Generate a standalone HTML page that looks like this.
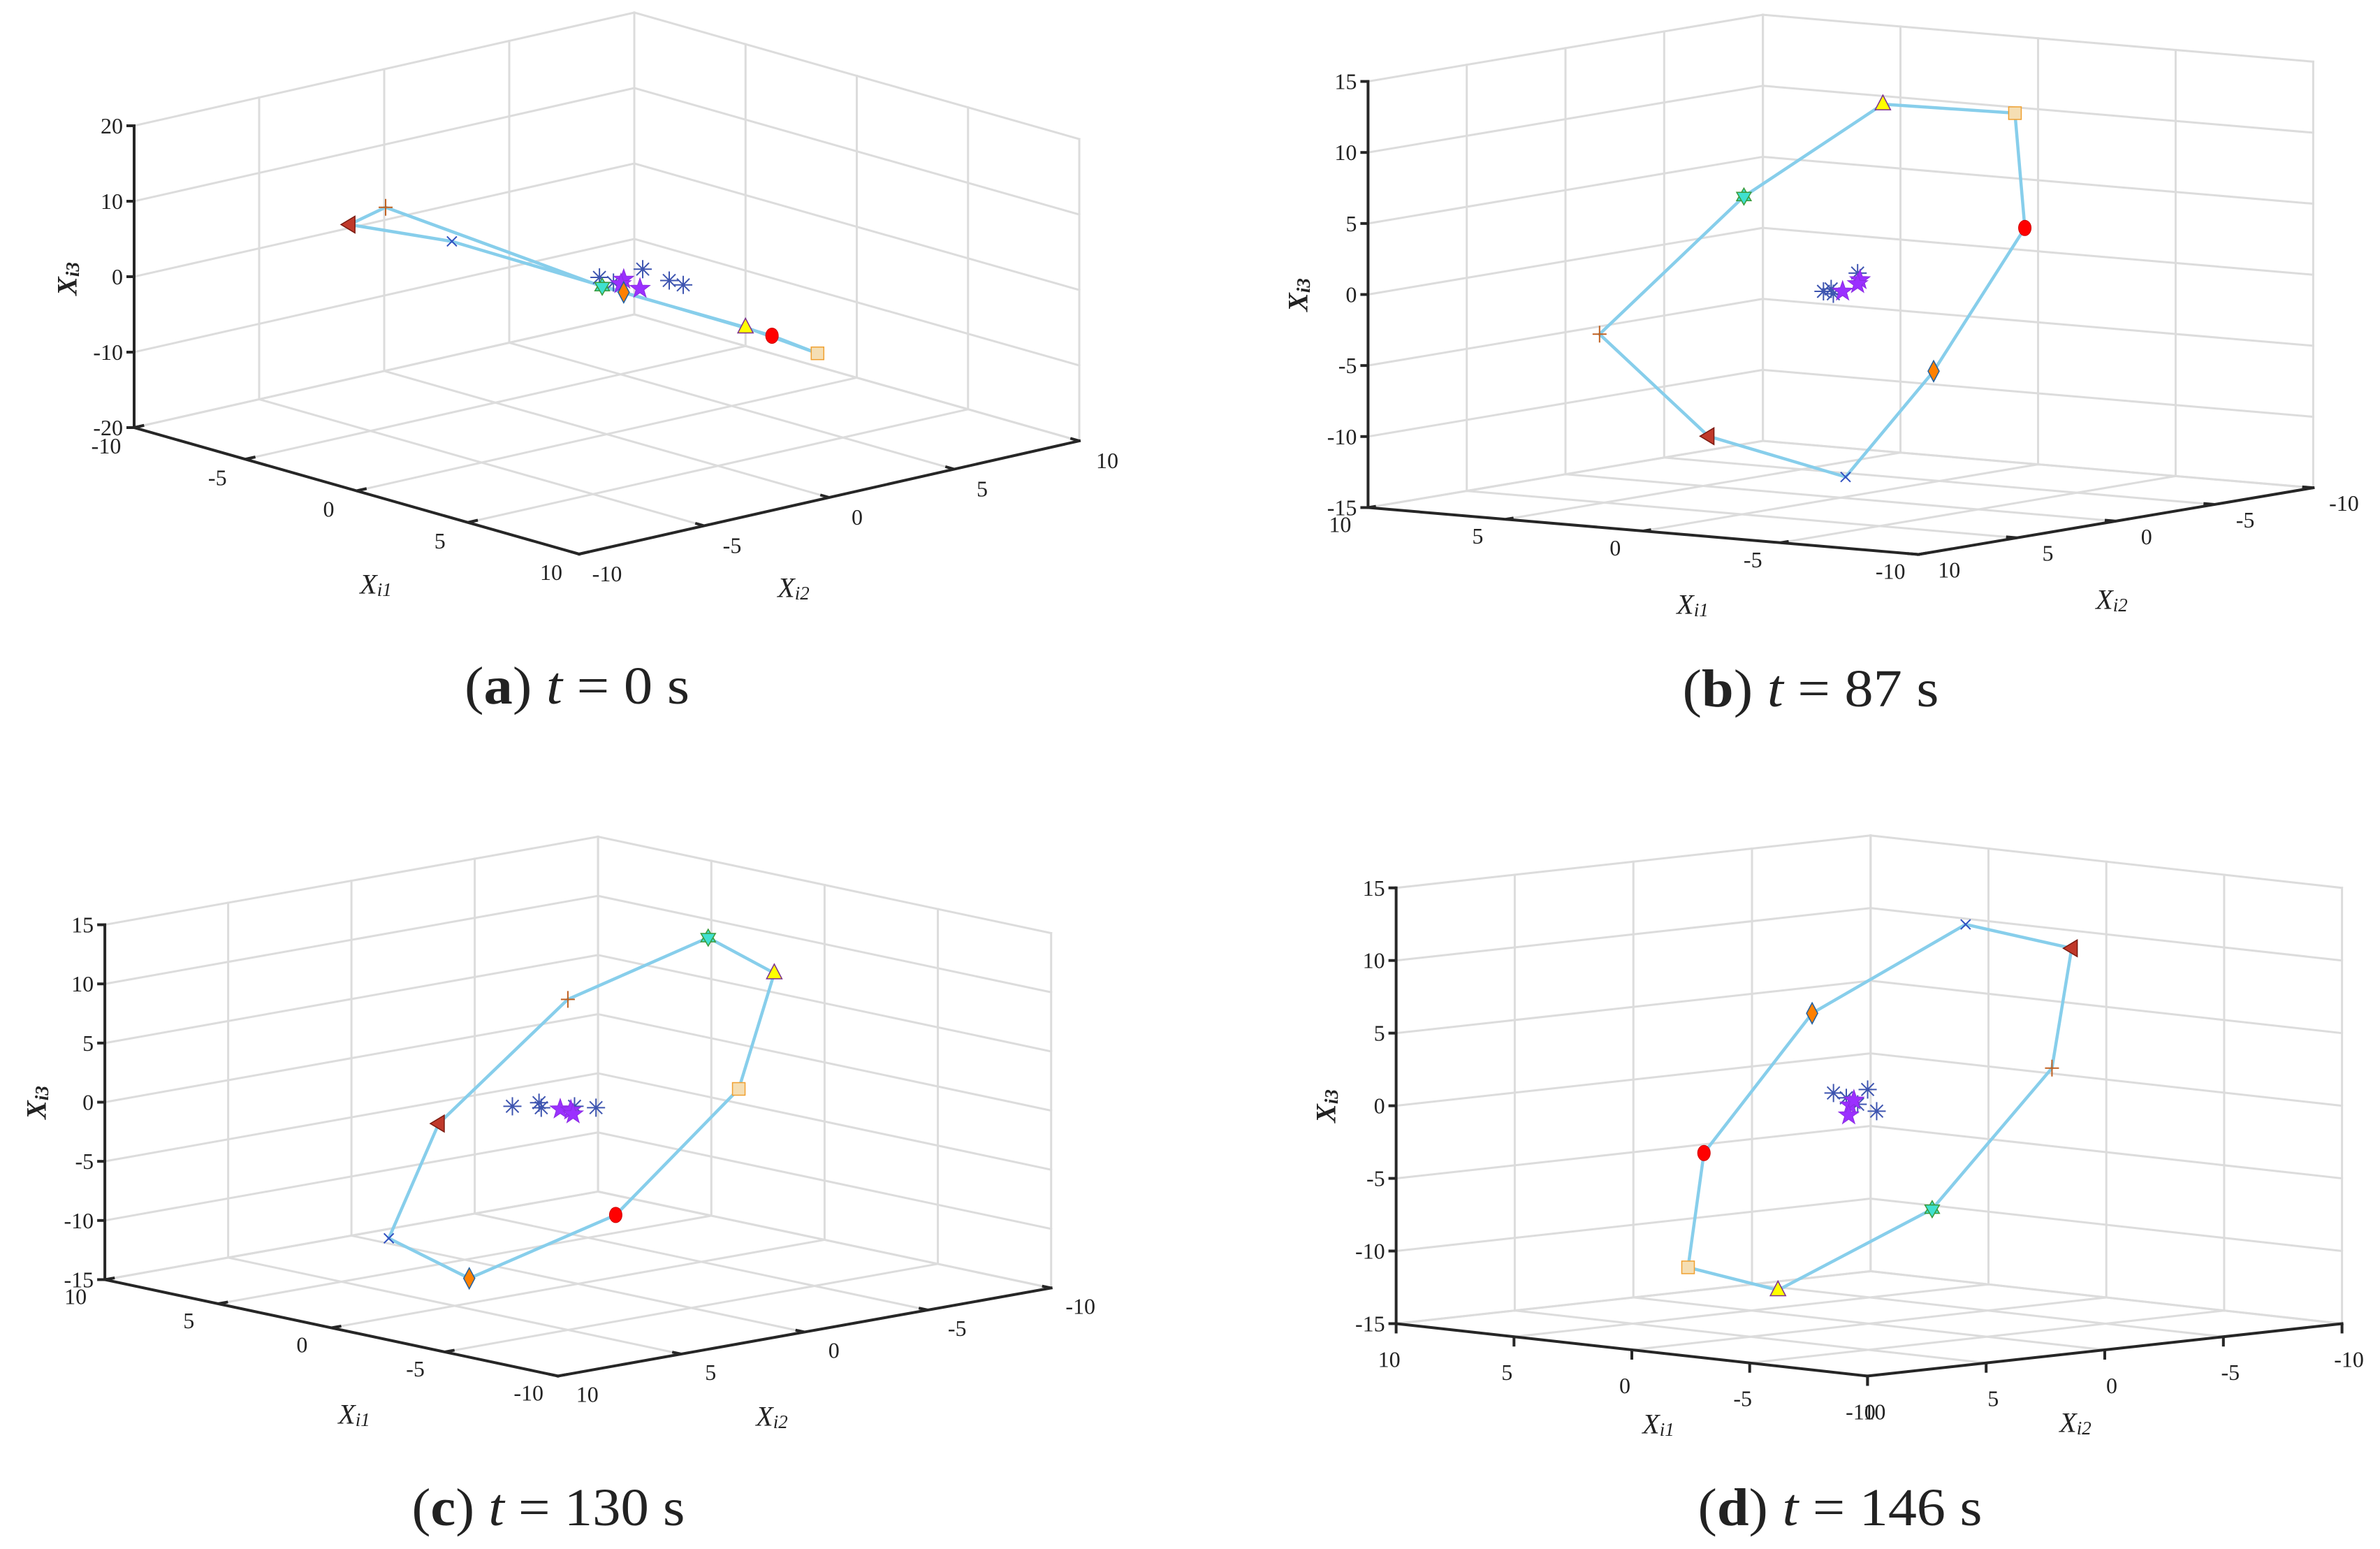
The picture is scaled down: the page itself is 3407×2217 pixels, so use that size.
<!DOCTYPE html>
<html><head><meta charset="utf-8"><title>Formation trajectories</title>
<style>
html,body{margin:0;padding:0;background:#fff;}
svg{display:block;}
text{font-family:"Liberation Serif",serif;fill:#222;}
</style></head>
<body>
<svg id="fig" xmlns="http://www.w3.org/2000/svg" width="3407" height="2217" viewBox="0 0 3407 2217">
<rect x="0" y="0" width="3407" height="2217" fill="#fff"/>
</svg>
<script>
// ---- data (agent order: hexagram, triangle, square, circle, diamond, x, left-triangle, plus) ----
const agentNames = ['agent-hexagram','agent-triangle','agent-square','agent-circle','agent-diamond','agent-x','agent-left-triangle','agent-plus'];
const xyTicks = [-10,-5,0,5,10];
const zTicksA = [-20,-10,0,10,20];
const zTicksBCD = [-15,-10,-5,0,5,10,15];

const ringA_x1 = [0,0,0,0,0,0,-1,0];
const ringA_x2 = [-0.18,5.55,8.43,6.61,0.68,-6.19,-9.4,-8.84];
const ringA_x3 = [-0.3,-10.0,-15.6,-11.9,-1.7,10.2,14.0,16.7];
const ringB_x1 = [0,0,0,0,0,0,0,3];
const ringB_x2 = [4.9,-2.14,-8.83,-9.33,-4.71,-0.25,6.7,8.03];
const ringB_x3 = [7.35,12.2,10.0,1.8,-7.2,-13.6,-9.1,-2.1];
const ringC_x1 = [0,0,0,0,0,0,0,0];
const ringC_x2 = [-5.28,-7.96,-6.52,-1.53,4.41,7.67,5.65,0.41];
const ringC_x3 = [12.3,8.3,-0.95,-9.75,-12.9,-8.3,0.65,9.2];
const ringD_x1 = [0,0,0,0,0,0,0,0];
const ringD_x2 = [-2.66,3.84,7.63,6.96,2.4,-4.07,-8.54,-7.71];
const ringD_x3 = [-7.6,-12.0,-9.75,-2.0,6.8,11.75,9.3,1.2];

const astA_x2 = [-0.29,1.44,2.5,3.06,0.27];
const astA_x3 = [1.0,0.8,-1.5,-2.5,-0.1];
const purA_x2 = [0.68,1.33,0.57];
const purA_x3 = [0,-1.7,-0.5];
const astB_x2 = [0.87,0.37,-0.86,0.48];
const astB_x3 = [-0.27,-0.56,0.61,-0.19];
const purB_x2 = [-0.98,-0.1,-0.86];
const purB_x3 = [0.1,-0.5,-0.15];
const astC_x2 = [2.66,1.58,1.49,-0.73,0.14];
const astC_x3 = [1.0,0.9,0.44,-0.38,0.06];
const purC_x2 = [0.72,0.29,0.2];
const purC_x3 = [0.03,-0.22,-0.58];
const astD_x2 = [1.5,0.06,-0.32,0.96,0.48];
const astD_x3 = [1.15,1.13,-0.43,0.72,0.19];
const purD_x2 = [0.8,0.64,0.86];
const purD_x3 = [0.18,0.49,-0.49];

const captionTimes = ['0','87','130','146'];
const captionLetters = ['a','b','c','d'];

// ---- layout (projection geometry) ----
const panels = [
 {id:'a',ox:868.5,oy:405.5,ex:[31.85,9.05],ey:[35.8,-8.1],c:-10.8,zt:zTicksA,bx1:-10,bx2:10,
  off1:[-40,26],off2:[40,28],lab3:[96,399],lab1:[538,836],lab2:[1136,841],cap:[826,982],capW:322,tickDown:false,
  r1:ringA_x1,r2:ringA_x2,r3:ringA_x3,a2:astA_x2,a3:astA_x3,p2:purA_x2,p3:purA_x3},
 {id:'b',ox:2634.9,oy:407.35,ex:[-39.39,-3.355],ey:[-28.26,4.77],c:-20.33,zt:zTicksBCD,bx1:10,bx2:-10,
  off1:[-40,24],off2:[44,22],lab3:[1858,422],lab1:[2423,865],lab2:[3023,858],cap:[2592,986],capW:367,tickDown:false,
  r1:ringB_x1,r2:ringB_x2,r3:ringB_x3,a2:astB_x2,a3:astB_x3,p2:purB_x2,p3:purB_x3},
 {id:'c',ox:827.4,oy:1583.5,ex:[-32.43,-6.9],ey:[-35.3,6.3],c:-16.93,zt:zTicksBCD,bx1:10,bx2:-10,
  off1:[-42,24],off2:[42,26],lab3:[52,1578],lab1:[507,2024],lab2:[1105,2027],cap:[785,2158],capW:391,tickDown:false,
  r1:ringC_x1,r2:ringC_x2,r3:ringC_x3,a2:astC_x2,a3:astC_x3,p2:purC_x2,p3:purC_x3},
 {id:'d',ox:2675.6,oy:1582.6,ex:[-33.74,-3.75],ey:[-33.96,3.75],c:-20.79,zt:zTicksBCD,bx1:10,bx2:-10,
  off1:[-10,51],off2:[10,51],lab3:[1898,1583],lab1:[2374,2038],lab2:[2971,2036],cap:[2634,2158],capW:407,tickDown:true,
  r1:ringD_x1,r2:ringD_x2,r3:ringD_x3,a2:astD_x2,a3:astD_x3,p2:purD_x2,p3:purD_x3}
];

const NS='http://www.w3.org/2000/svg';
const svg=document.getElementById('fig');
function mk(tag,attrs,parent){const e=document.createElementNS(NS,tag);for(const k in attrs)e.setAttribute(k,attrs[k]);parent.appendChild(e);return e;}
function P(p,x1,x2,x3){return [p.ox+p.ex[0]*x1+p.ey[0]*x2, p.oy+p.ex[1]*x1+p.ey[1]*x2+p.c*x3];}
function seg(p,a,b,parent,stroke,w){const A=P(p,...a),B=P(p,...b);return mk('line',{x1:A[0],y1:A[1],x2:B[0],y2:B[1],stroke:stroke,'stroke-width':w,'stroke-linecap':'square'},parent);}

function marker(kind,x,y,parent){
  const g=mk('g',{transform:`translate(${x},${y})`},parent);
  if(kind==='agent-hexagram'){
    mk('polygon',{points:'0,-12 10.4,6 -10.4,6',fill:'#40E0D0',stroke:'#3a9a3a','stroke-width':1.5},g);
    mk('polygon',{points:'0,12 10.4,-6 -10.4,-6',fill:'#40E0D0',stroke:'#3a9a3a','stroke-width':1.5},g);
  }else if(kind==='agent-triangle'){
    mk('polygon',{points:'0,-13 11,8 -11,8',fill:'#ffff00',stroke:'#7b2d8e','stroke-width':1.5},g);
  }else if(kind==='agent-square'){
    mk('rect',{x:-9,y:-9,width:18,height:18,fill:'#f5deb3',stroke:'#f0a030','stroke-width':1.5},g);
  }else if(kind==='agent-circle'){
    mk('ellipse',{cx:0,cy:0,rx:9,ry:11,fill:'#ff0000',stroke:'#cc0000','stroke-width':1},g);
  }else if(kind==='agent-diamond'){
    mk('polygon',{points:'0,-15 8,0 0,15 -8,0',fill:'#ff8000',stroke:'#1f5fa0','stroke-width':1.5},g);
  }else if(kind==='agent-x'){
    mk('path',{d:'M-7,-7L7,7M-7,7L7,-7',stroke:'#3050c0','stroke-width':2,fill:'none'},g);
  }else if(kind==='agent-left-triangle'){
    mk('polygon',{points:'-12,0 8,-12 8,12',fill:'#c0392b',stroke:'#7a1a10','stroke-width':1.5},g);
  }else if(kind==='agent-plus'){
    mk('path',{d:'M-10,0L10,0M0,-12L0,12',stroke:'#c06020','stroke-width':2,fill:'none'},g);
  }else if(kind==='asterisk'){
    mk('path',{d:'M-13,0L13,0M0,-13L0,13M-9,-9L9,9M-9,9L9,-9',stroke:'#3e55b0','stroke-width':2,fill:'none'},g);
  }else if(kind==='purple-star'){
    let pts=[];for(let i=0;i<10;i++){const r=i%2?6:15,a=-Math.PI/2+i*Math.PI/5;pts.push((r*Math.cos(a)).toFixed(1)+','+(r*Math.sin(a)).toFixed(1));}
    mk('polygon',{points:pts.join(' '),fill:'#9b30ff',stroke:'#8a2be2','stroke-width':1},g);
  }
  return g;
}

panels.forEach((p,pi)=>{
  const g=mk('g',{},svg);
  
  
  const zmin=p.zt[0], zmax=p.zt[p.zt.length-1];
  const s1=Math.sign(p.bx1), s2=Math.sign(p.bx2);
  // grid
  const grid=mk('g',{},g);
  
  
  const gc='#dcdcdc', gw=3;
  xyTicks.forEach(v=>{
    seg(p,[p.bx1,v,zmin],[p.bx1,v,zmax],grid,gc,gw);
    seg(p,[v,p.bx2,zmin],[v,p.bx2,zmax],grid,gc,gw);
    seg(p,[v,-10,zmin],[v,10,zmin],grid,gc,gw);
    seg(p,[-10,v,zmin],[10,v,zmin],grid,gc,gw);
  });
  p.zt.forEach(z=>{
    seg(p,[p.bx1,-10,z],[p.bx1,10,z],grid,gc,gw);
    seg(p,[-10,p.bx2,z],[10,p.bx2,z],grid,gc,gw);
  });
  // axes
  const ac='#262626', aw=4;
  const zax=seg(p,[p.bx1,-p.bx2,zmin],[p.bx1,-p.bx2,zmax],g,ac,aw);
  
  
  const x1ax=seg(p,[-10,-p.bx2,zmin],[10,-p.bx2,zmin],g,ac,aw);
  
  
  const x2ax=seg(p,[-p.bx1,-10,zmin],[-p.bx1,10,zmin],g,ac,aw);
  
  
  // z ticks
  p.zt.forEach(z=>{
    const q=P(p,p.bx1,-p.bx2,z);
    mk('line',{x1:q[0]-11,y1:q[1],x2:q[0],y2:q[1],stroke:ac,'stroke-width':4},g);
    const t=mk('text',{x:q[0]-16,y:q[1],'text-anchor':'end','dominant-baseline':'central','font-size':32},g);
    t.textContent=String(z);
    
    
  });
  xyTicks.forEach(v=>{
    const q=P(p,v,-p.bx2,zmin);
    const qe=p.tickDown?[q[0],q[1]+14]:P(p,v,-p.bx2+s2*0.4,zmin);
    mk('line',{x1:q[0],y1:q[1],x2:qe[0],y2:qe[1],stroke:ac,'stroke-width':4},g);
    const t=mk('text',{x:q[0]+p.off1[0],y:q[1]+p.off1[1],'text-anchor':'middle','dominant-baseline':'central','font-size':32},g);
    t.textContent=String(v);
    
    
    const r=P(p,-p.bx1,v,zmin);
    const re=p.tickDown?[r[0],r[1]+14]:P(p,-p.bx1+s1*0.4,v,zmin);
    mk('line',{x1:r[0],y1:r[1],x2:re[0],y2:re[1],stroke:ac,'stroke-width':4},g);
    const t2=mk('text',{x:r[0]+p.off2[0],y:r[1]+p.off2[1],'text-anchor':'middle','dominant-baseline':'central','font-size':32},g);
    t2.textContent=String(v);
    
    
  });
  // axis titles
  const l3=mk('text',{x:p.lab3[0],y:p.lab3[1],'text-anchor':'middle','dominant-baseline':'central','font-size':40,'font-style':'italic','font-weight':'bold',transform:`rotate(-90 ${p.lab3[0]} ${p.lab3[1]})`},g);
  l3.innerHTML='X<tspan font-size="27" dy="8">i3</tspan>';
  
  
  const l1=mk('text',{x:p.lab1[0],y:p.lab1[1],'text-anchor':'middle','dominant-baseline':'central','font-size':40,'font-style':'italic'},g);
  l1.innerHTML='X<tspan font-size="27" dy="8">i1</tspan>';
  
  
  const l2=mk('text',{x:p.lab2[0],y:p.lab2[1],'text-anchor':'middle','dominant-baseline':'central','font-size':40,'font-style':'italic'},g);
  l2.innerHTML='X<tspan font-size="27" dy="8">i2</tspan>';
  
  
  // ring line
  const pts=p.r2.map((_,i)=>P(p,p.r1[i],p.r2[i],p.r3[i]));
  const pl=mk('polygon',{points:pts.map(q=>q[0].toFixed(1)+','+q[1].toFixed(1)).join(' '),fill:'none',stroke:'#87CEEB','stroke-width':4.5,'stroke-linejoin':'round'},g);
  
  
  // cluster
  p.a2.forEach((v,i)=>{
    const q=P(p,0,v,p.a3[i]);
    const m=marker('asterisk',q[0],q[1],g);
    
    
  });
  p.p2.forEach((v,i)=>{
    const q=P(p,0,v,p.p3[i]);
    const m=marker('purple-star',q[0],q[1],g);
    
    
  });
  // agents
  pts.forEach((q,i)=>{
    const m=marker(agentNames[i],q[0],q[1],g);
    
    
  });
  // caption
  const cap=mk('text',{x:p.cap[0],y:p.cap[1],'text-anchor':'middle','dominant-baseline':'central','font-size':76,textLength:p.capW,lengthAdjust:'spacingAndGlyphs'},g);
  cap.innerHTML='(<tspan font-weight="bold">'+captionLetters[pi]+'</tspan>) <tspan font-style="italic">t</tspan> = '+captionTimes[pi]+' s';
  
  
});
</script>
</body></html>
